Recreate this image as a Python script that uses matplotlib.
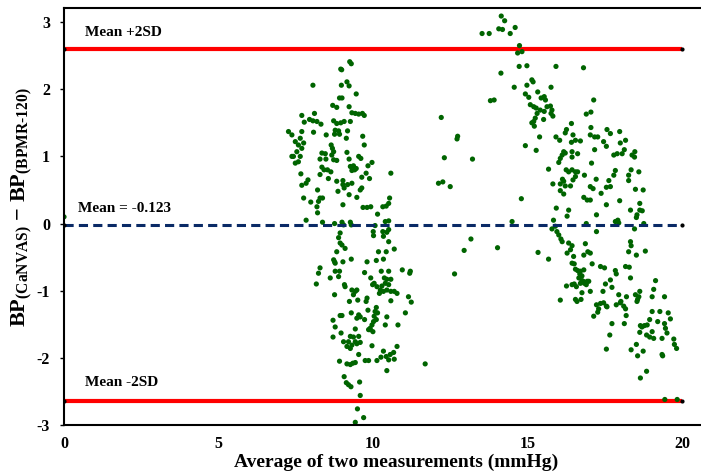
import matplotlib
matplotlib.use("Agg")
import matplotlib.pyplot as plt
import numpy as np

plt.rcParams['font.family'] = ['Liberation Serif', 'DejaVu Serif']
plt.rcParams['font.weight'] = 'bold'
plt.rcParams['axes.unicode_minus'] = False
plt.rcParams['mathtext.fontset'] = 'custom'
plt.rcParams['mathtext.rm'] = 'Liberation Serif:bold'
plt.rcParams['mathtext.bf'] = 'Liberation Serif:bold'
plt.rcParams['mathtext.it'] = 'Liberation Serif:bold:italic'

# limits of agreement
mean_diff_line = -0.02
upper_loa = 2.60
lower_loa = -2.65
line_x = [0, 20]

# (average, difference) pairs, grouped by cluster
left_upper = [
    (8.95, 2.30), (8.98, 2.29), (9.24, 2.41), (9.29, 2.38), (8.05, 2.06), (8.97, 2.06), (9.15, 2.11), (9.22, 2.05),
    (8.91, 1.87), (8.99, 1.87), (9.45, 1.93), (8.69, 1.76), (8.82, 1.73), (9.22, 1.74),
    (9.31, 1.65), (9.42, 1.64), (9.53, 1.63), (9.65, 1.64), (9.71, 1.61), (7.69, 1.61), (8.10, 1.64),
    (7.77, 1.51), (7.94, 1.55), (8.05, 1.53), (8.18, 1.52), (8.31, 1.48),
    (8.72, 1.53), (8.82, 1.49), (8.95, 1.50), (9.06, 1.52), (9.26, 1.52),
    (7.26, 1.37), (7.37, 1.32), (7.69, 1.37), (8.07, 1.36), (8.48, 1.32),
    (8.77, 1.39), (8.88, 1.38), (8.75, 1.33), (8.91, 1.33), (9.17, 1.38), (9.66, 1.30), (9.13, 1.27), (7.64, 1.27),
    (7.48, 1.22), (7.58, 1.17), (7.75, 1.20), (7.69, 1.12), (7.53, 1.07), (7.42, 1.00), (7.64, 1.00), (7.37, 1.00),
    (7.48, 0.90), (7.58, 0.92), (8.64, 1.17), (8.68, 1.12), (8.72, 1.07), (8.66, 1.02), (8.72, 0.95),
    (8.34, 1.05), (8.45, 1.04), (8.28, 0.96), (8.47, 0.96), (9.15, 1.06), (9.22, 0.96), (9.71, 1.17),
    (9.53, 1.00), (9.60, 0.97), (8.82, 0.94),
    (8.34, 0.84), (8.41, 0.80), (8.52, 0.80), (8.63, 0.77), (8.28, 0.73),
    (9.26, 0.85), (9.36, 0.86), (9.45, 0.82), (9.31, 0.79), (9.40, 0.80), (9.83, 0.86), (9.96, 0.91),
    (7.66, 0.74), (8.55, 0.67), (9.77, 0.75), (9.63, 0.69), (9.88, 0.67), (10.57, 0.75),
    (8.82, 0.63), (9.02, 0.64), (9.02, 0.58), (9.06, 0.53), (9.17, 0.58), (9.31, 0.60),
    (7.89, 0.65), (7.83, 0.60), (7.69, 0.57), (8.20, 0.50), (9.58, 0.50), (9.63, 0.53),
    (8.86, 0.48), (9.22, 0.43), (9.47, 0.39),
    (8.28, 0.38), (8.36, 0.38), (8.23, 0.33), (8.18, 0.25), (8.20, 0.16), (7.75, 0.38), (7.98, 0.32),
    (9.02, 0.28), (9.67, 0.24), (9.80, 0.24), (9.92, 0.25),
    (10.31, 0.25), (10.42, 0.26), (10.53, 0.38), (10.50, 0.30), (10.14, 0.14),
    (7.83, 0.05), (8.36, 0.02), (8.75, 0.00), (8.99, 0.02), (9.04, -0.02), (9.26, 0.02), (9.29, -0.02),
    (10.39, 0.03), (10.50, 0.04), (10.06, -0.03), (8.93, -0.14), (8.88, -0.21),
    (10.00, -0.12), (10.01, -0.18), (10.31, -0.12), (10.44, -0.13), (10.50, -0.09), (10.33, -0.19),
]

left_lower = [
    (10.50, -0.27), (8.93, -0.29), (8.99, -0.32), (9.09, -0.37), (8.82, -0.42), (10.17, -0.42), (10.42, -0.42), (10.68, -0.38),
    (8.72, -0.54), (8.77, -0.59), (8.75, -0.57), (9.02, -0.57), (9.29, -0.53), (9.80, -0.57), (10.10, -0.55), (10.33, -0.53),
    (8.28, -0.66), (8.23, -0.74), (8.16, -0.90), (8.77, -0.71), (8.91, -0.71), (8.88, -0.79), (8.61, -0.81), (9.72, -0.73),
    (10.26, -0.71), (10.50, -0.71), (10.94, -0.69), (11.20, -0.71), (11.18, -0.74),
    (9.92, -0.81), (10.03, -0.89), (9.98, -0.91), (10.12, -0.94), (10.36, -0.81), (10.44, -0.83), (10.57, -0.83),
    (10.39, -0.89), (10.50, -0.91), (10.28, -0.93), (9.09, -0.94), (9.07, -0.91),
    (9.31, -0.99), (9.42, -1.01), (9.47, -0.99), (9.36, -1.06), (10.23, -0.99), (10.33, -1.01), (10.44, -0.99),
    (10.57, -1.01), (10.68, -1.01), (10.20, -1.04), (10.77, -1.04), (8.75, -1.06),
    (9.80, -1.11), (9.77, -1.16), (9.23, -1.16), (9.50, -1.14), (10.57, -1.15), (11.14, -1.09), (11.23, -1.17),
    (10.10, -1.25), (10.06, -1.31), (10.03, -1.38), (10.01, -1.46), (9.96, -1.51), (9.90, -1.56), (9.99, -1.61),
    (10.10, -1.43), (10.14, -1.33), (9.83, -1.29),
    (9.29, -1.33), (9.53, -1.36), (9.58, -1.39), (9.47, -1.41), (9.72, -1.43), (8.93, -1.37), (8.99, -1.37),
    (8.70, -1.44), (8.77, -1.54), (10.44, -1.39), (11.04, -1.33), (10.39, -1.51), (10.80, -1.51), (9.42, -1.57),
    (9.85, -1.58), (9.90, -1.58), (8.96, -1.63), (8.70, -1.69),
    (9.26, -1.68), (9.36, -1.69), (9.53, -1.68), (9.04, -1.76), (9.20, -1.76), (9.31, -1.81), (9.42, -1.76),
    (9.47, -1.79), (9.58, -1.77), (9.15, -1.83), (9.26, -1.86), (9.96, -1.82),
    (10.77, -1.83), (10.66, -1.92), (10.55, -1.95), (10.33, -1.90), (10.42, -1.98), (10.25, -1.99), (10.50, -2.03),
    (10.68, -2.02), (9.53, -1.95),
    (8.91, -2.05), (9.15, -2.09), (9.26, -2.10), (9.34, -2.08), (9.42, -2.07), (9.74, -2.04), (9.85, -2.04),
    (10.12, -2.04), (10.44, -2.19), (11.68, -2.09),
    (9.06, -2.28), (9.13, -2.37), (9.20, -2.40), (9.28, -2.43), (9.56, -2.36), (9.58, -2.56), (9.49, -2.76),
    (9.69, -2.89), (9.42, -2.96),
]

middle = [
    (0.0, 0.10),
    (14.14, 3.09), (14.25, 3.02), (14.06, 2.90), (14.18, 2.89), (13.52, 2.83), (13.75, 2.83), (14.43, 2.83), (14.59, 2.92),
    (14.73, 2.65), (14.67, 2.54), (14.81, 2.56), (14.72, 2.34), (14.97, 2.35), (15.91, 2.34), (14.13, 2.24),
    (15.13, 2.14), (15.17, 2.11), (14.97, 2.06), (14.56, 2.03), (15.75, 2.03),
    (15.32, 1.96), (15.43, 1.87), (15.53, 1.89), (15.57, 1.84), (14.92, 1.93), (15.03, 1.88),
    (15.08, 1.77), (15.19, 1.74), (15.27, 1.72), (15.40, 1.69), (15.53, 1.67), (15.62, 1.74), (15.73, 1.75),
    (15.78, 1.69), (15.75, 1.64),
    (15.30, 1.64), (15.24, 1.57), (15.19, 1.52), (15.13, 1.50), (15.21, 1.45), (15.51, 1.55), (15.81, 1.60),
    (13.79, 1.83), (13.91, 1.84), (12.20, 1.58), (12.73, 1.30), (12.71, 1.26), (15.38, 1.29), (15.91, 1.29),
    (14.92, 1.16), (15.27, 1.09), (12.30, 0.98), (13.21, 0.96), (15.67, 0.81), (15.81, 0.59),
    (12.11, 0.60), (12.25, 0.62), (12.49, 0.55), (14.79, 0.37), (15.92, 0.23), (14.49, 0.03),
    (15.83, 0.05), (15.89, -0.04), (15.78, -0.08), (15.94, -0.12), (13.16, -0.23),
    (12.94, -0.40), (14.02, -0.36), (12.63, -0.75), (15.33, -0.43), (15.67, -0.53),
]

right_upper = [
    (16.80, 2.32),
    (17.13, 1.84), (16.89, 1.63), (17.04, 1.66), (16.41, 1.49), (17.04, 1.43), (16.25, 1.40), (16.21, 1.35), (16.03, 1.24),
    (16.46, 1.32), (16.54, 1.24), (16.41, 1.21), (16.70, 1.23), (17.02, 1.32), (17.16, 1.29), (17.26, 1.29),
    (17.56, 1.40), (17.67, 1.34), (17.97, 1.37), (18.16, 1.24), (17.99, 1.20), (17.45, 1.22), (17.54, 1.15), (17.16, 1.10),
    (17.78, 1.02), (17.89, 1.04), (18.05, 1.04), (18.12, 1.10), (18.37, 1.02), (18.46, 1.07), (18.45, 0.99),
    (16.16, 1.07), (16.21, 1.05), (16.11, 1.02), (16.05, 0.97), (16.00, 0.91), (16.43, 1.07), (16.61, 1.04), (16.43, 0.99),
    (17.06, 0.90), (16.24, 0.80), (16.32, 0.77), (16.43, 0.80), (16.54, 0.77), (16.61, 0.77), (16.83, 0.72),
    (16.12, 0.66), (16.16, 0.63), (16.05, 0.59), (16.21, 0.56), (16.38, 0.56), (16.46, 0.65), (16.54, 0.70),
    (17.21, 0.66), (17.02, 0.55), (17.11, 0.52), (17.37, 0.45), (17.54, 0.54), (17.67, 0.55), (17.62, 0.64),
    (17.78, 0.72), (17.83, 0.79),
    (18.26, 0.72), (18.34, 0.80), (18.26, 0.64), (18.59, 0.77), (18.48, 0.51), (18.73, 0.50), (16.05, 0.49), (16.16, 0.44),
    (16.81, 0.39), (16.92, 0.35), (17.02, 0.35), (17.54, 0.28), (17.97, 0.34), (18.62, 0.30),
    (16.32, 0.20), (16.27, 0.11), (17.22, 0.13), (18.32, 0.20), (18.62, 0.20), (18.70, 0.19), (18.53, 0.13), (18.51, 0.09),
    (16.89, 0.00), (17.83, 0.03), (17.94, 0.01), (17.91, 0.05), (18.75, 0.00), (18.45, -0.08),
    (16.00, -0.17), (16.07, -0.23), (16.11, -0.27), (16.32, -0.29), (16.43, -0.33), (16.38, -0.39), (16.27, -0.44),
    (17.22, -0.12), (16.86, -0.30), (16.94, -0.42), (17.02, -0.44), (16.81, -0.47), (16.48, -0.49),
    (18.32, -0.27), (18.34, -0.33), (18.26, -0.42), (18.51, -0.47), (18.80, -0.41),
]

right_lower = [
    (16.43, -0.59), (16.50, -0.60),
    (16.54, -0.68), (16.61, -0.70), (16.70, -0.71), (16.81, -0.69), (16.68, -0.75), (16.75, -0.78), (16.65, -0.81),
    (16.75, -0.85), (16.70, -0.89), (16.83, -0.89), (16.79, -0.86), (16.92, -0.86),
    (16.25, -0.93), (16.43, -0.91), (16.50, -0.90), (16.57, -0.94), (16.97, -0.86), (16.89, -0.91),
    (17.08, -0.60), (17.35, -0.64), (17.48, -0.66), (17.83, -0.70), (17.86, -0.75), (18.16, -0.64), (18.28, -0.65),
    (18.32, -0.81),
    (17.67, -0.84), (17.51, -0.90), (17.72, -0.95), (17.43, -1.01), (16.75, -1.03), (17.02, -1.01),
    (16.54, -1.13), (16.72, -1.13), (16.59, -1.16), (16.05, -1.14),
    (17.94, -1.06), (17.86, -1.21), (17.99, -1.18), (18.10, -1.23), (18.16, -1.27), (18.01, -1.16), (18.19, -1.09),
    (18.48, -1.06), (18.62, -1.01), (18.59, -1.09), (18.53, -1.16), (18.55, -1.13),
    (19.02, -1.09), (19.07, -0.98), (19.13, -0.85), (19.42, -1.09),
    (17.22, -1.21), (17.35, -1.19), (17.45, -1.18), (17.54, -1.23), (17.56, -1.24), (17.29, -1.27), (17.26, -1.32),
    (17.13, -1.38),
    (18.18, -1.37), (17.72, -1.49), (18.12, -1.49),
    (19.02, -1.31), (19.27, -1.31), (19.54, -1.33), (19.61, -1.42), (19.20, -1.46), (18.94, -1.43), (18.86, -1.51),
    (18.64, -1.52), (18.69, -1.54), (18.77, -1.52), (18.62, -1.62), (18.84, -1.66), (18.94, -1.69), (19.07, -1.71),
    (19.02, -1.61), (19.34, -1.71), (19.42, -1.49), (19.45, -1.56), (19.50, -1.63), (19.72, -1.72), (19.74, -1.80),
    (19.81, -1.86), (19.36, -1.97), (19.34, -1.95),
    (17.65, -1.66), (17.54, -1.87), (18.34, -1.88), (18.51, -1.80), (18.55, -1.97), (18.73, -1.90),
    (18.84, -2.20), (18.64, -2.30), (19.43, -2.62), (19.83, -2.62),
]

points = np.array(left_upper + left_lower + middle + right_upper + right_lower)
avg = points[:, 0]
diff = points[:, 1]

fig = plt.figure(figsize=(7.01, 4.74), dpi=100)
ax = fig.add_axes([64 / 701, 1 - 425 / 474, 1 - 64 / 701, (425 - 8) / 474])

ax.plot(line_x, [upper_loa, upper_loa], color='#ff0000', lw=3, zorder=1, solid_capstyle='butt')
ax.plot(line_x, [lower_loa, lower_loa], color='#ff0000', lw=3, zorder=1, solid_capstyle='butt')
ax.scatter(avg, diff, s=14, color='#006400', edgecolors='none', zorder=2)
ax.plot(line_x, [mean_diff_line, mean_diff_line], color='#0a2a66', lw=2.2,
        dashes=(3, 1.7), zorder=3)
for yv in [upper_loa, lower_loa, mean_diff_line]:
    ax.plot(line_x, [yv, yv], 'o', color='black', ms=2, zorder=4)

ax.text(0.68, 2.84, 'Mean +2SD', fontsize=11, fontweight='bold', va='center')
ax.text(0.45, 0.23, 'Mean = -0.123', fontsize=11, fontweight='bold', va='center')
ax.text(0.68, -2.37, 'Mean -2SD', fontsize=11, fontweight='bold', va='center')

ax.set_xlim(0, 20.6)
ax.set_ylim(-3, 3.21)
ax.set_xticks([0, 5, 10, 15, 20])
ax.set_yticks([-3, -2, -1, 0, 1, 2, 3])
ax.tick_params(axis='x', length=0, pad=8, labelsize=11.5)
ax.tick_params(axis='y', length=3, width=1, pad=7, labelsize=11.5, direction='out')
for lab in ax.get_xticklabels() + ax.get_yticklabels():
    lab.set_fontweight('bold')

ax.spines['right'].set_visible(False)
for s in ['left', 'top', 'bottom']:
    ax.spines[s].set_linewidth(1.5)
    ax.spines[s].set_color('black')

fig.text(396 / 701, 1 - 462 / 474, 'Average of two measurements (mmHg)',
         fontsize=14, fontweight='bold', ha='center', va='center')
fig.text(22 / 701, 1 - 207 / 474,
         r'$\mathrm{BP}_{\mathrm{(CaNVAS)}}\ \mathrm{-}\ \mathrm{BP}_{\mathrm{(BPMR\text{-}120)}}$',
         fontsize=16, rotation=90, ha='center', va='center')

fig.savefig('out.png', dpi=100)
